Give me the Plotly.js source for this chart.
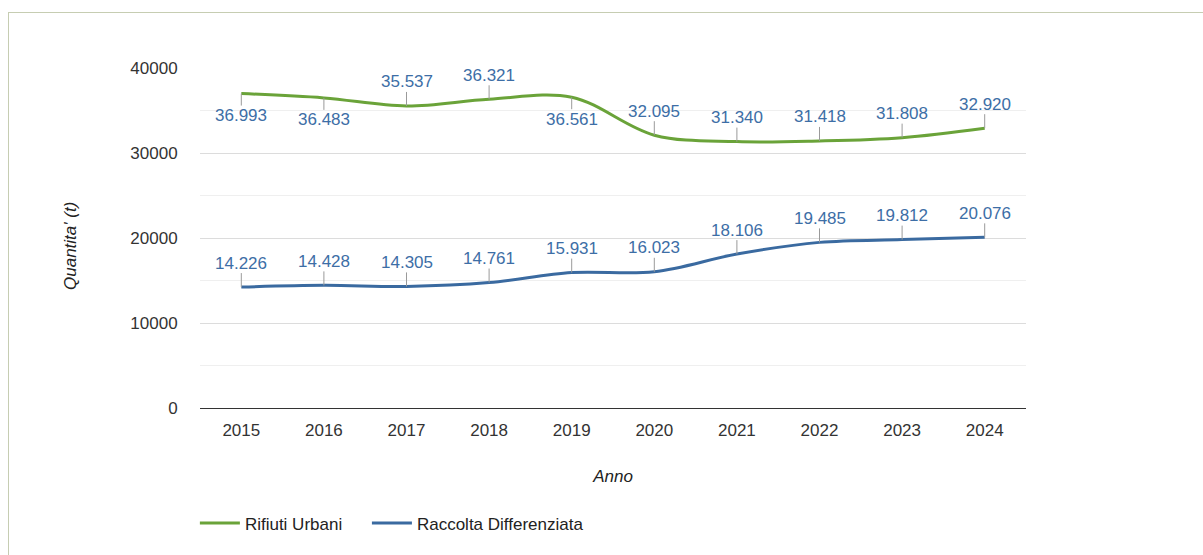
<!DOCTYPE html>
<html><head><meta charset="utf-8">
<script src="https://cdn.plot.ly/plotly-3.0.1.min.js"></script>
<style>
body{margin:0;background:#fff;}
#chart{position:absolute;left:0;top:0;width:1203px;height:555px;}
#frame{position:absolute;left:8px;top:12px;width:1300px;height:700px;border:1px solid #c6cdb2;pointer-events:none;}
</style></head>
<body>
<div id="chart"></div>
<div id="frame"></div>
<script>
const years = ['2015','2016','2017','2018','2019','2020','2021','2022','2023','2024'];
const rifiutiUrbani = [36993, 36483, 35537, 36321, 36561, 32095, 31340, 31418, 31808, 32920];
const raccoltaDifferenziata = [14226, 14428, 14305, 14761, 15931, 16023, 18106, 19485, 19812, 20076];
const yTicks = [0, 10000, 20000, 30000, 40000];
// label placement (1 = above, -1 = below)
const urbaniLabelSide = [-1, -1, 1, 1, -1, 1, 1, 1, 1, 1];
const diffLabelSide = [1, 1, 1, 1, 1, 1, 1, 1, 1, 1];

const green = '#6aa339', blue = '#3a6aa0', labelColor = '#3d6ea6';
const FONT = 'Liberation Sans, Arial, sans-serif';
const FS = 17;

function fmt(v){ return String(v).replace(/\B(?=(\d{3})+(?!\d))/g, '.'); }

const traces = [
  {x: years, y: rifiutiUrbani, name: 'Rifiuti Urbani', type: 'scatter', mode: 'lines',
   legend: 'legend',
   line: {color: green, width: 3, shape: 'spline', smoothing: 1}},
  {x: years, y: raccoltaDifferenziata, name: 'Raccolta Differenziata', type: 'scatter', mode: 'lines',
   legend: 'legend2',
   line: {color: blue, width: 3, shape: 'spline', smoothing: 1}}
];

const annotations = [];
function addLabels(vals, sides){
  vals.forEach((v, i) => {
    annotations.push({x: i, y: v, xref: 'x', yref: 'y', text: fmt(v),
      showarrow: true, arrowhead: 0, arrowwidth: 1, arrowcolor: '#9a9a9a',
      ax: 0, ay: sides[i] > 0 ? -24 : 22, borderpad: 0,
      font: {family: FONT, size: FS, color: labelColor}});
  });
}
addLabels(rifiutiUrbani, urbaniLabelSide);
addLabels(raccoltaDifferenziata, diffLabelSide);

annotations.push({xref: 'paper', yref: 'paper', x: -130/826, y: (408-246)/340,
  xanchor: 'center', yanchor: 'middle', showarrow: false, textangle: -90,
  text: "<i>Quantita' (t)</i>", font: {family: FONT, size: FS, color: '#222'}});

const legendBase = {orientation: 'h', xref: 'container', yref: 'container', y: 0.057,
  xanchor: 'left', yanchor: 'middle', font: {family: FONT, size: FS, color: '#222'},
  itemwidth: 40, bgcolor: 'rgba(0,0,0,0)'};

const layout = {
  width: 1203, height: 555,
  margin: {l: 200, r: 177, t: 68, b: 147},
  paper_bgcolor: 'rgba(0,0,0,0)', plot_bgcolor: '#fff',
  font: {family: FONT, size: FS, color: '#333'},
  showlegend: true,
  legend: Object.assign({}, legendBase, {x: 0.162}),
  legend2: Object.assign({}, legendBase, {x: 0.305}),
  xaxis: {type: 'category', range: [-0.5, 9.5], showgrid: false, zeroline: false,
    showline: true, linecolor: '#333', linewidth: 1.3,
    ticks: 'outside', ticklen: 6, tickcolor: 'rgba(0,0,0,0)',
    tickfont: {family: FONT, size: FS, color: '#333'},
    title: {text: '<i>Anno</i>', standoff: 31, font: {family: FONT, size: FS, color: '#222'}}},
  yaxis: {range: [0, 40000], tickvals: yTicks, ticktext: yTicks.map(String),
    showgrid: true, gridcolor: '#dcdcdc', gridwidth: 1, zeroline: false, showline: false,
    minor: {dtick: 5000, showgrid: true, gridcolor: '#efefef', gridwidth: 1},
    ticks: 'outside', ticklen: 18, tickcolor: 'rgba(0,0,0,0)',
    tickfont: {family: FONT, size: FS, color: '#333'}},
  annotations: annotations
};

Plotly.newPlot('chart', traces, layout, {displayModeBar: false, staticPlot: true});
</script>
</body></html>
